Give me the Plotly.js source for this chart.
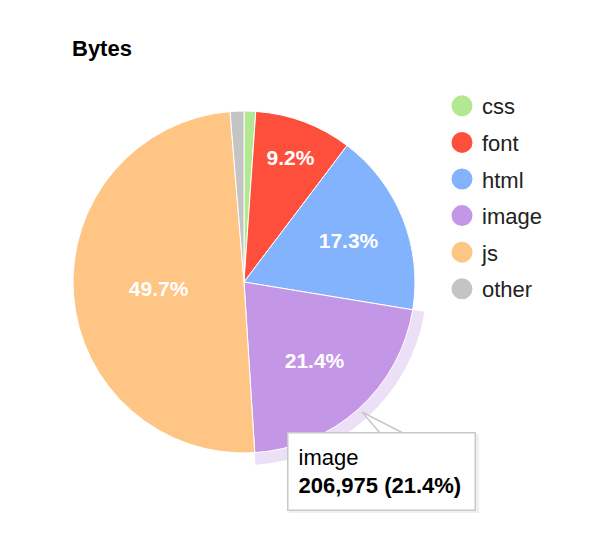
<!DOCTYPE html>
<html>
<head>
<meta charset="utf-8">
<script src="https://cdn.plot.ly/plotly-3.0.1.min.js"></script>
<style>html,body{margin:0;padding:0;background:#fff}#chart{width:600px;height:550px}</style>
</head>
<body>
<div id="chart"></div>
<script>
const labels = ['css', 'font', 'html', 'image', 'js', 'other'];
const values = [10640, 88980, 167320, 206975, 480690, 12570];
const colors = ['#b3e893', '#fe4f3d', '#82b3fc', '#c497e6', '#fec584', '#c4c4c4'];
const haloColors = ['rgba(0,0,0,0)', 'rgba(0,0,0,0)', 'rgba(0,0,0,0)', '#ebe0f6', 'rgba(0,0,0,0)', 'rgba(0,0,0,0)'];
const textTemplates = ['', '%{percent:.1%}', '%{percent:.1%}', '%{percent:.1%}', '%{percent:.1%}', ''];
const hoverIndex = 3;

const W = 600, H = 550;
const cx = 244, cy = 282, R = 171, RH = 183;
function dom(r) {
  return {x: [(cx - r) / W, (cx + r) / W], y: [(H - cy - r) / H, (H - cy + r) / H]};
}
const FONT = 'Liberation Sans, Arial, Helvetica, sans-serif';

const total = values.reduce((a, b) => a + b, 0);
const pct = (values[hoverIndex] / total * 100).toFixed(1);
const tipText = labels[hoverIndex] + '<br><b>' + values[hoverIndex].toLocaleString('en-US') + ' (' + pct + '%)</b>';

const traces = [
  {
    type: 'pie', labels: labels, values: values, sort: false, direction: 'clockwise', rotation: 0,
    domain: dom(RH), marker: {colors: haloColors, line: {width: 0}},
    textinfo: 'none', hoverinfo: 'skip', showlegend: false
  },
  {
    type: 'pie', labels: labels, values: values, sort: false, direction: 'clockwise', rotation: 0,
    domain: dom(R), marker: {colors: colors, line: {color: '#ffffff', width: 1}},
    texttemplate: textTemplates, textposition: 'inside', insidetextorientation: 'horizontal',
    insidetextfont: {family: FONT, size: 21, color: '#ffffff', weight: 'bold'},
    hoverinfo: 'label+value+percent', showlegend: false
  }
];
labels.forEach((l, i) => {
  traces.push({
    type: 'scatter', mode: 'markers', x: [null], y: [null], name: l, legendgroup: l,
    marker: {symbol: 'circle', size: 16, color: colors[i], line: {color: colors[i], width: 5}},
    hoverinfo: 'skip'
  });
});

const layout = {
  width: W, height: H,
  margin: {l: 0, r: 0, t: 0, b: 0},
  paper_bgcolor: '#ffffff', plot_bgcolor: '#ffffff',
  font: {family: FONT, color: '#222222'},
  title: {text: '<b>Bytes</b>', x: 72 / W, xanchor: 'left', xref: 'paper', y: 1 - 48 / H, yanchor: 'middle', yref: 'paper',
    font: {size: 22, color: '#000000', family: FONT}},
  xaxis: {visible: false}, yaxis: {visible: false},
  showlegend: true,
  legend: {x: 442 / W, xanchor: 'left', y: 1 - 85 / H, yanchor: 'top', traceorder: 'grouped', tracegroupgap: 5,
    font: {size: 22, color: '#222222'}, bgcolor: 'rgba(0,0,0,0)', itemclick: false},
  shapes: [
    {type: 'rect', xref: 'paper', yref: 'paper', x0: 289 / W, x1: 479 / W, y0: 1 - 434 / H, y1: 1 - 513 / H,
     fillcolor: 'rgba(0,0,0,0.06)', line: {width: 0}},
    {type: 'path', xref: 'paper', yref: 'paper',
     path: 'M ' + (380 / W) + ' ' + (1 - 433 / H) + ' L ' + (362 / W) + ' ' + (1 - 412 / H) + ' L ' + (403 / W) + ' ' + (1 - 433 / H) + ' Z',
     fillcolor: '#ffffff', line: {color: '#c8c8c8', width: 1.5}}
  ],
  annotations: [
    {xref: 'paper', yref: 'paper', x: 287 / W, y: 1 - 432 / H, xanchor: 'left', yanchor: 'top', showarrow: false,
     text: tipText, align: 'left', bgcolor: '#ffffff', bordercolor: '#c8c8c8', borderwidth: 1.5, borderpad: 10,
     width: 166, height: 56, font: {size: 22, color: '#000000'}}
  ]
};

Plotly.newPlot('chart', traces, layout, {displayModeBar: false});
</script>
</body>
</html>
